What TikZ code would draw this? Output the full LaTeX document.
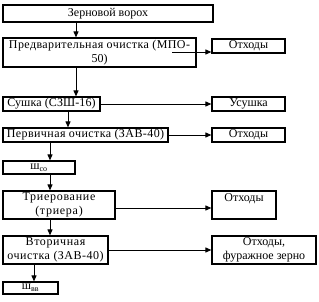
\documentclass[tikz,border=0pt]{standalone}
\usepackage{fontspec}
\setmainfont{Liberation Serif}
\usetikzlibrary{arrows.meta}
\newcommand{\lsp}[1]{\addfontfeature{LetterSpace=#1}}
\begin{document}
\begin{tikzpicture}[x=1pt,y=-1pt,
  box/.style={draw, line width=1.2pt, inner sep=0pt, align=center,
    font=\fontsize{12}{14.5}\selectfont},
  arr/.style={line width=0.9pt, -{Triangle[length=6pt,width=5pt]}}]
\useasboundingbox (0,0) rectangle (319,302);
\node[box, minimum width=210, minimum height=17] (zv) at (108,13.5) {Зерновой ворох};
\node[box, minimum width=193, minimum height=29] (pred) at (99.5,52.5) {\lsp{3.5}Предварительная очистка (МПО-\\50)};
\node[box, minimum width=73, minimum height=14] (otx1) at (248.5,46) {Отходы};
\node[box, minimum width=97, minimum height=14] (sush) at (51.5,104) {\lsp{1}Сушка (СЗШ-16)};
\node[box, minimum width=73, minimum height=14] (usush) at (248.5,104) {Усушка};
\node[box, minimum width=165, minimum height=14] (perv) at (85.5,135) {\lsp{3.5}Первичная очистка (ЗАВ-40)};
\node[box, minimum width=73, minimum height=14] (otx2) at (248.5,135) {Отходы};
\node[box, minimum width=72, minimum height=13] (sh1) at (39,167.5) {ш\textsubscript{со}};
\node[box, minimum width=112, minimum height=28] (trier) at (59,205) {\lsp{6}Триерование\\\lsp{6}(триера)};
\node[box, minimum width=64, minimum height=28] (otx3) at (244,205) {Отходы\\\phantom{Х}};
\node[box, minimum width=105, minimum height=28] (vtor) at (55.5,250) {\lsp{5}Вторичная\\\lsp{4}очистка (ЗАВ-40)};
\node[box, minimum width=104, minimum height=28] (otx4) at (264,250) {Отходы,\\фуражное зерно};
\node[box, minimum width=55, minimum height=12] (sh2) at (30.5,288) {ш\textsubscript{вв}};
\coordinate (xa) at (76,0);
\coordinate (xb) at (68,0);
\coordinate (xc) at (50,0);
\coordinate (xd) at (34,0);
\coordinate (p1) at (172,52);
\draw[arr] (zv.south -| xa) -- (pred.north -| xa);
\draw[arr] (pred.south -| xa) -- (sush.north -| xa);
\draw[arr] (sush.south -| xb) -- (perv.north -| xb);
\draw[arr] (perv.south -| xc) -- (sh1.north -| xc);
\draw[arr] (sh1.south -| xc) -- (trier.north -| xc);
\draw[arr] (trier.south -| xc) -- (vtor.north -| xc);
\draw[arr] (vtor.south -| xd) -- (sh2.north -| xd);
\draw[arr] (p1) -- (p1 -| otx1.west);
\draw[arr] (sush.east) -- (usush.west);
\draw[arr] (perv.east) -- (otx2.west);
\draw[arr] ([yshift=-3pt]trier.east) -- ([yshift=-3pt]trier.east -| otx3.west);
\draw[arr] (vtor.east) -- (otx4.west);
\end{tikzpicture}
\end{document}
